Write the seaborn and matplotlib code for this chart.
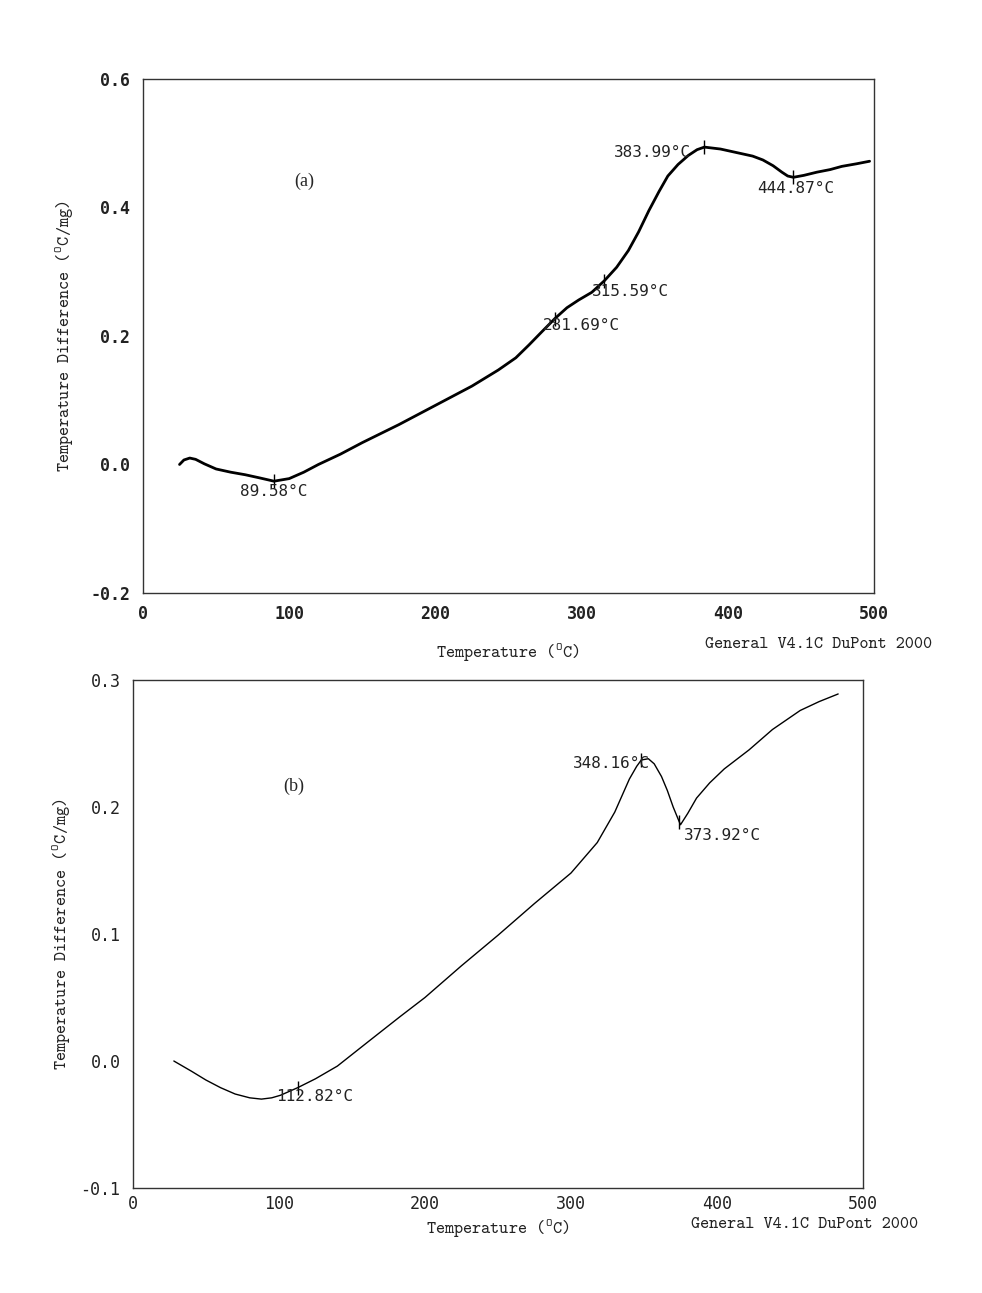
import numpy as np
import matplotlib
matplotlib.use("Agg")
import matplotlib.pyplot as plt
import pandas as pd
import seaborn as sns

sns.set_theme(style="white")
plt.rcParams['font.family'] = ['DejaVu Sans Mono']
plt.rcParams['mathtext.fontset'] = 'cm'

# curve (a)
temp_a = [25, 28, 32, 36, 42, 50, 60, 70, 80, 89.58, 100, 110, 120, 135, 150, 175,
          200, 225, 243, 255, 264, 273, 281.69, 290, 298, 307, 315.59, 324, 332, 339,
          346, 353, 359, 366, 373, 379, 383.99, 395, 407, 417, 424, 431, 437, 441,
          444.87, 452, 461, 470, 478, 488, 497]
diff_a = [0.0, 0.007, 0.010, 0.008, 0.001, -0.007, -0.012, -0.016, -0.021, -0.026,
          -0.022, -0.012, 0.0, 0.016, 0.034, 0.062, 0.092, 0.122, 0.147, 0.166,
          0.186, 0.207, 0.227, 0.244, 0.256, 0.268, 0.286, 0.307, 0.333, 0.362,
          0.395, 0.425, 0.449, 0.467, 0.481, 0.490, 0.494, 0.491, 0.485, 0.480,
          0.474, 0.465, 0.455, 0.449, 0.447, 0.450, 0.455, 0.459, 0.464, 0.468, 0.472]
peaks_a_t = [89.58, 281.69, 315.59, 383.99, 444.87]
peaks_a_y = [-0.026, 0.227, 0.286, 0.494, 0.447]
peaks_a_lbl = ["89.58°C", "281.69°C", "315.59°C", "383.99°C", "444.87°C"]

# curve (b)
temp_b = [28, 40, 50, 60, 70, 80, 88, 95, 101, 112.82, 125, 140, 162, 183, 200, 225,
          250, 275, 300, 318, 330, 340, 345, 348.16, 353, 357, 362, 366, 370, 375,
          380, 386, 395, 405, 422, 438, 457, 470, 483]
diff_b = [0.0, -0.008, -0.015, -0.021, -0.026, -0.029, -0.030, -0.029, -0.027, -0.021,
          -0.014, -0.004, 0.016, 0.035, 0.050, 0.075, 0.099, 0.124, 0.148, 0.172,
          0.196, 0.222, 0.232, 0.237, 0.238, 0.234, 0.224, 0.213, 0.200, 0.186,
          0.195, 0.207, 0.219, 0.230, 0.245, 0.261, 0.276, 0.283, 0.289]
peaks_b_t = [112.82, 348.16, 373.92]
peaks_b_y = [-0.021, 0.237, 0.188]
peaks_b_lbl = ["112.82°C", "348.16°C", "373.92°C"]

# label offsets in pixels (ha, dx, dy)
offs_a = [("center", 0, -10), ("left", -12, -7), ("left", -12, -11),
          ("right", -13, -5), ("left", -36, -11)]
offs_b = [("left", -22, -9), ("right", 9, -3), ("left", 5, -13)]

df_a = pd.DataFrame({"T": temp_a, "dT": diff_a})
df_b = pd.DataFrame({"T": temp_b, "dT": diff_b})

fig = plt.figure(figsize=(9.82, 12.93), dpi=100)
ax1 = fig.add_axes([0.1456, 0.5414, 0.7444, 0.3975])
ax2 = fig.add_axes([0.1354, 0.0812, 0.7434, 0.3929])

sns.lineplot(data=df_a, x="T", y="dT", ax=ax1, color="black", linewidth=2.0,
             sort=False)
sns.lineplot(data=df_b, x="T", y="dT", ax=ax2, color="black", linewidth=1.0,
             sort=False)

ax1.plot(peaks_a_t, peaks_a_y, "|", color="black", markersize=10, markeredgewidth=1.0)
ax2.plot(peaks_b_t, peaks_b_y, "|", color="black", markersize=10, markeredgewidth=1.0)

for t, y, s, (ha, dx, dy) in zip(peaks_a_t, peaks_a_y, peaks_a_lbl, offs_a):
    ax1.annotate(s, (t, y), xytext=(dx, dy), textcoords="offset pixels",
                 ha=ha, va="center", fontsize=11.5, color="#222222")
for t, y, s, (ha, dx, dy) in zip(peaks_b_t, peaks_b_y, peaks_b_lbl, offs_b):
    ax2.annotate(s, (t, y), xytext=(dx, dy), textcoords="offset pixels",
                 ha=ha, va="center", fontsize=11.5, color="#222222")

ax1.set_xlim(0, 500)
ax1.set_ylim(-0.2, 0.6)
ax1.set_xticks(np.arange(0, 501, 100))
ax1.set_xticks(np.arange(50, 500, 100), minor=True)
ax1.set_yticks(np.arange(-0.2, 0.61, 0.2))
ax1.set_yticks(np.arange(-0.1, 0.6, 0.2), minor=True)
ax1.set_yticklabels(["-0.2", "0.0", "0.2", "0.4", "0.6"])

ax2.set_xlim(0, 500)
ax2.set_ylim(-0.1, 0.3)
ax2.set_xticks(np.arange(0, 501, 100))
ax2.set_xticks(np.arange(50, 500, 100), minor=True)
ax2.set_yticks(np.arange(-0.1, 0.31, 0.1))
ax2.set_yticks(np.arange(-0.05, 0.3, 0.1), minor=True)
ax2.set_yticklabels(["-0.1", "0.0", "0.1", "0.2", "0.3"])

for ax, wt in [(ax1, "bold"), (ax2, "normal")]:
    for sp in ax.spines.values():
        sp.set_color("#333333")
        sp.set_linewidth(1.0)
    ax.tick_params(axis="both", which="major", direction="out", length=6,
                   width=1.0, color="#333333", labelsize=12, pad=3)
    ax.tick_params(axis="both", which="minor", direction="out", length=3,
                   width=1.0, color="#333333")
    for lbl in ax.get_xticklabels() + ax.get_yticklabels():
        lbl.set_fontweight(wt)
        lbl.set_color("#222222")
    ax.set_xlabel(r"Temperature ($^{\mathtt{O}}$C)", fontfamily="cmtt10",
                  fontsize=12.5, color="#222222")
    ax.set_ylabel(r"Temperature Difference ($^{\mathtt{O}}$C/mg)",
                  fontfamily="cmtt10", fontsize=12.5, color="#222222")

ax2.tick_params(axis="x", which="major", length=4, pad=1)

ax1.xaxis.set_label_coords(0.5, -0.095)
ax1.yaxis.set_label_coords(-0.092, 0.5)
ax2.xaxis.set_label_coords(0.5, -0.058)
ax2.yaxis.set_label_coords(-0.082, 0.5)

ax1.text(0.22, 0.80, "(a)", transform=ax1.transAxes, fontfamily="Liberation Serif",
         fontsize=13, ha="center", va="center")
ax2.text(0.22, 0.79, "(b)", transform=ax2.transAxes, fontfamily="Liberation Serif",
         fontsize=13, ha="center", va="center")

fig.text(705 / 982, 1 - 645 / 1293, "General V4.1C DuPont 2000", fontfamily="cmtt10",
         fontsize=12.5, ha="left", va="center", color="#222222")
fig.text(691 / 982, 1 - 1224 / 1293, "General V4.1C DuPont 2000", fontfamily="cmtt10",
         fontsize=12.5, ha="left", va="center", color="#222222")

fig.savefig("out.png", dpi=100, facecolor="white")
